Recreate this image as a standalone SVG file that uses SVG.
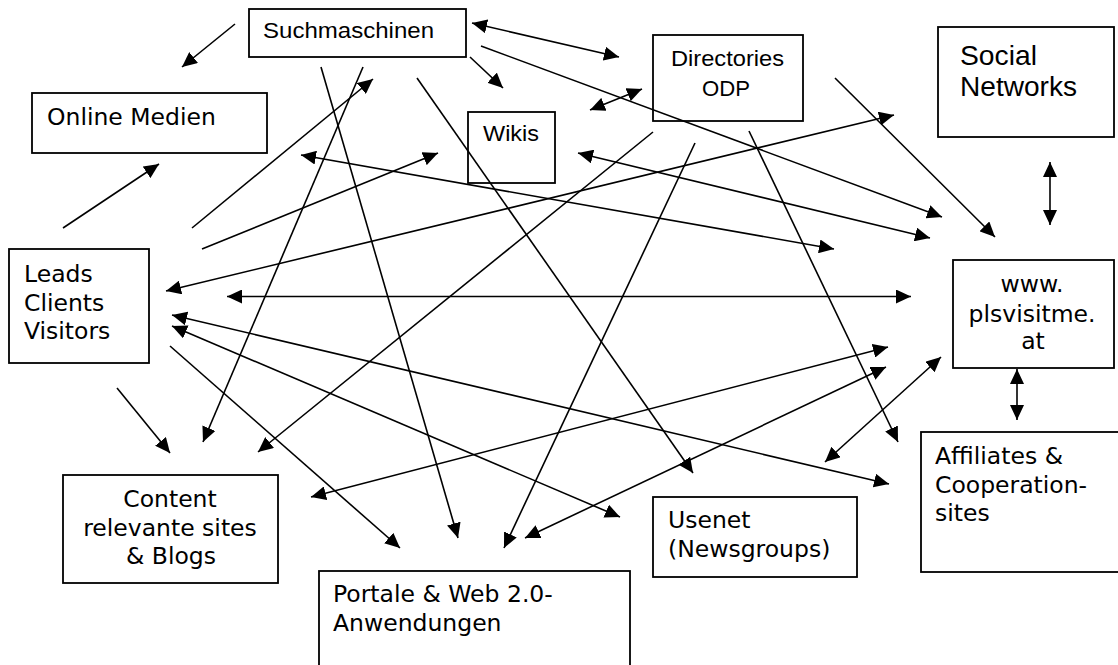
<svg xmlns="http://www.w3.org/2000/svg" width="1118" height="665" viewBox="0 0 1118 665">
<style>
.box{fill:#fff;stroke:#000;stroke-width:1.8}
.t{font-family:"DejaVu Sans",Verdana,sans-serif;font-size:23.5px;fill:#000}
.a{font-family:"Liberation Sans",Arial,sans-serif;fill:#000}
#connectors line{stroke:#000;stroke-width:1.6;fill:none;marker-end:url(#ah)}
#connectors line.bi{marker-start:url(#ah)}
</style>
<defs>
<marker id="ah" markerUnits="userSpaceOnUse" markerWidth="16" markerHeight="14" refX="15" refY="7" orient="auto-start-reverse" viewBox="0 0 16 14">
<path d="M0,0 L15,7 L0,14 z" fill="#000"/>
</marker>
</defs>
<rect width="1118" height="665" fill="#fff"/>
<g id="nodes">
<g id="suchmaschinen"><rect class="box" x="249" y="9" width="217" height="48"/><text class="a" x="263" y="38" font-size="22.5" textLength="171" lengthAdjust="spacingAndGlyphs">Suchmaschinen</text></g>
<g id="online-medien"><rect class="box" x="32" y="93" width="235" height="60"/><text class="t" x="47" y="125">Online Medien</text></g>
<g id="leads"><rect class="box" x="9" y="249" width="140" height="114"/><text class="t" x="24" y="282">Leads</text><text class="t" x="24" y="311">Clients</text><text class="t" x="24" y="339">Visitors</text></g>
<g id="wikis"><rect class="box" x="468" y="112" width="87" height="71"/><text class="a" x="483" y="141" font-size="21.5" textLength="56" lengthAdjust="spacingAndGlyphs">Wikis</text></g>
<g id="directories"><rect class="box" x="653" y="35" width="150" height="86"/><text class="a" x="671" y="66" font-size="22.5" textLength="113" lengthAdjust="spacingAndGlyphs">Directories</text><text class="a" x="702" y="96" font-size="22.5" textLength="48" lengthAdjust="spacingAndGlyphs">ODP</text></g>
<g id="social-networks"><rect class="box" x="938" y="27" width="176" height="110"/><text class="a" x="960" y="65" font-size="27.5" textLength="77" lengthAdjust="spacingAndGlyphs">Social</text><text class="a" x="960" y="96" font-size="27.5" textLength="117" lengthAdjust="spacingAndGlyphs">Networks</text></g>
<g id="www"><rect class="box" x="953" y="260" width="161" height="108"/><text class="t" x="1032" y="292" text-anchor="middle">www.</text><text class="t" x="1032" y="322" text-anchor="middle">plsvisitme.</text><text class="t" x="1033" y="349" text-anchor="middle">at</text></g>
<g id="affiliates"><rect class="box" x="921" y="432" width="200" height="140"/><text class="t" x="935" y="464">Affiliates &amp;</text><text class="t" x="935" y="493">Cooperation-</text><text class="t" x="935" y="521">sites</text></g>
<g id="usenet"><rect class="box" x="653" y="497" width="204" height="80"/><text class="t" x="668" y="528">Usenet</text><text class="t" x="668" y="557">(Newsgroups)</text></g>
<g id="content"><rect class="box" x="63" y="475" width="215" height="108"/><text class="t" x="170" y="507" text-anchor="middle">Content</text><text class="t" x="170" y="536" text-anchor="middle">relevante sites</text><text class="t" x="171" y="564" text-anchor="middle">&amp; Blogs</text></g>
<g id="portale"><rect class="box" x="319" y="571" width="311" height="110"/><text class="t" x="333" y="602">Portale &amp; Web 2.0-</text><text class="t" x="333" y="631">Anwendungen</text></g>
</g>
<g id="connectors">
<line x1="235" y1="24" x2="182" y2="67"/>
<line x1="63" y1="228" x2="159" y2="164"/>
<line x1="192" y1="228" x2="373" y2="79"/>
<line x1="363" y1="67" x2="203" y2="442"/>
<line x1="321" y1="67" x2="458" y2="538"/>
<line x1="417" y1="78" x2="693" y2="473"/>
<line class="bi" x1="301" y1="155" x2="834" y2="249"/>
<line x1="202" y1="249" x2="438" y2="153"/>
<line class="bi" x1="166" y1="291" x2="894" y2="115"/>
<line class="bi" x1="472" y1="23" x2="619" y2="57"/>
<line x1="470" y1="57" x2="503" y2="88"/>
<line class="bi" x1="590" y1="110" x2="642" y2="89"/>
<line x1="481" y1="46" x2="942" y2="217"/>
<line x1="835" y1="78" x2="995" y2="237"/>
<line class="bi" x1="578" y1="153" x2="930" y2="238"/>
<line x1="653" y1="132" x2="258" y2="452"/>
<line x1="695" y1="143" x2="504" y2="548"/>
<line x1="749" y1="131" x2="898" y2="442"/>
<line class="bi" x1="1050" y1="162" x2="1050" y2="225"/>
<line class="bi" x1="227" y1="296.5" x2="911" y2="296.5"/>
<line class="bi" x1="172" y1="315" x2="889" y2="484"/>
<line class="bi" x1="172" y1="326" x2="620" y2="517"/>
<line x1="170" y1="346" x2="400" y2="548"/>
<line x1="117" y1="388" x2="170" y2="453"/>
<line class="bi" x1="311" y1="497" x2="888" y2="347"/>
<line class="bi" x1="525" y1="538" x2="886" y2="367"/>
<line class="bi" x1="941" y1="357" x2="825" y2="462"/>
<line class="bi" x1="1017" y1="369" x2="1017" y2="420"/>
</g>
</svg>
